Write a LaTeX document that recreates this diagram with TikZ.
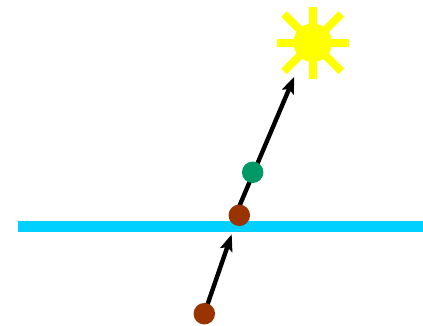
\documentclass[tikz,border=0pt]{standalone}
\usetikzlibrary{arrows.meta}
\definecolor{sunyellow}{RGB}{255,255,0}
\definecolor{surfacecyan}{RGB}{0,208,255}
\definecolor{dotbrown}{RGB}{153,51,0}
\definecolor{dotgreen}{RGB}{0,153,102}
\tikzset{
  dotnode/.style={circle,inner sep=0pt,minimum size=21.5pt,fill=#1},
  rayaxis/.style={sunyellow,line width=8.2pt},
  raydiag/.style={sunyellow,line width=7.8pt},
  beam/.style={black,line width=4.4pt,-{Stealth[length=16.5pt,width=12.5pt,inset=3pt]}},
  surface/.style={surfacecyan,line width=10.4pt}
}
\begin{document}
\begin{tikzpicture}[x=1pt,y=-1pt]
\useasboundingbox (0,0) rectangle (423,325);
% water surface
\coordinate (sl) at (17.5,226.5);
\coordinate (sr) at (423,226.5);
\draw[surface] (sl) -- (sr);
% sun
\coordinate (sun) at (312.7,42.7);
\foreach \a in {0,90,180,270}{
  \draw[rayaxis] (sun) -- ++(\a:35.8);
}
\foreach \a in {45,135,225,315}{
  \draw[raydiag] (sun) -- ++(\a:40.5);
}
\fill[sunyellow] (sun) circle (19.3);
% points
\coordinate (objc) at (204.3,313.7);
\coordinate (imgs) at (236,214);
\coordinate (tipa) at (231.7,234.3);
\coordinate (tipb) at (294.3,76.7);
% rays of light
\draw[beam] (objc) -- (tipa);
\draw[beam] (imgs) -- (tipb);
% points on top of the beams
\node[dotnode=dotbrown] (obj) at (objc) {};
\node[dotnode=dotbrown] (img) at (239.3,215.3) {};
\node[dotnode=dotgreen] (eye) at (252.7,172.3) {};
\end{tikzpicture}
\end{document}
